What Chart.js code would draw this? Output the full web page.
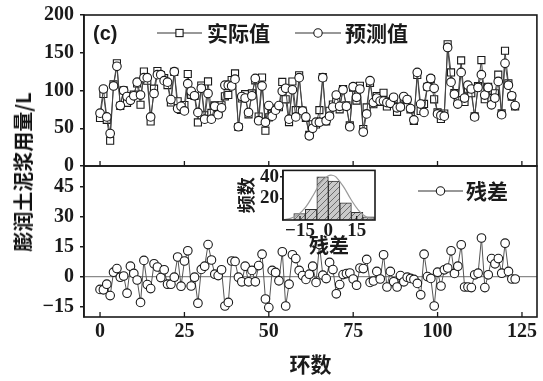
<!DOCTYPE html>
<html><head><meta charset="utf-8">
<script src="https://cdn.jsdelivr.net/npm/chart.js@4/dist/chart.umd.min.js"></script>
<style>
html,body{margin:0;padding:0;background:#fff;}
#wrap{position:relative;width:543px;height:381px;overflow:hidden;background:#fff;}
canvas{position:absolute;}
#ytitle{position:absolute;left:23px;top:172px;transform:translate(-50%,-50%) rotate(-90deg);font-family:"Noto Sans CJK SC";font-weight:bold;font-size:20px;line-height:1;color:#111;white-space:nowrap;}
</style></head><body>
<div id="wrap">
<canvas id="top" width="543" height="187" style="left:0;top:-3px"></canvas>
<canvas id="bot" width="543" height="233" style="left:0;top:148px"></canvas>
<canvas id="ins" width="150" height="100" style="left:230px;top:158px"></canvas>
<div id="ytitle">膨润土泥浆用量/L</div>
</div>
<script>
// ---------- data ----------
const actual = [63.6,95.4,61.2,33.5,108.2,136.0,79.7,100.3,83.7,92.2,
94.6,109.3,81.1,125.1,113.0,59.0,102.4,125.8,120.5,116.4,
107.2,84.2,124.7,85.8,74.2,80.8,121.9,94.3,92.7,57.7,
106.6,67.2,112.0,70.3,80.2,68.5,80.4,92.3,94.1,113.8,
122.6,51.7,89.4,95.2,68.4,96.1,113.4,65.5,117.2,46.8,
64.5,69.1,76.1,77.9,111.4,88.3,58.2,111.9,74.0,120.1,
73.5,63.6,41.2,55.2,55.1,74.0,117.7,59.0,73.1,81.5,
85.4,75.0,102.0,80.5,53.8,103.8,86.7,106.3,49.0,77.6,
110.1,81.8,92.6,84.8,96.9,78.8,85.6,88.4,71.8,78.5,
89.4,87.7,75.1,59.6,120.6,72.9,82.2,105.0,115.1,88.3,
71.2,62.3,69.4,161.3,123.9,96.6,87.2,139.9,84.8,101.8,
96.5,65.9,105.7,140.3,88.5,104.9,90.0,96.4,121.0,69.7,
152.7,109.6,91.8,78.8];
const predicted = [70,102,65,43,106,132,80,100,92,87,
93,111,94,117,117,65,96,121,121,113,
111,88,125,76,79,73,109,99,93,71,
103,62,96,62,79,68,77,107,107,106,
115,52,92,90,71,93,116,60,106,58,
80,66,74,80,99,103,62,101,65,117,
73,65,40,50,58,58,117,60,66,78,
94,79,101,79,52,105,91,102,45,69,
113,84,90,86,86,84,83,91,77,78,
92,88,76,61,124,82,71,105,116,103,
69,67,66,157,111,95,82,124,90,107,
102,65,104,121,94,104,81,90,112,68,
136,107,93,80];
const residual = [-6.4,-6.6,-3.8,-9.5,2.2,4.0,-0.3,0.3,-8.3,5.2,
1.6,-1.7,-12.9,8.1,-4.0,-6.0,6.4,4.8,-0.5,3.4,
-3.8,-3.8,-0.3,9.8,-4.8,7.8,12.9,-4.7,-0.3,-13.3,
3.6,5.2,16.0,8.3,1.2,0.5,3.4,-14.7,-12.9,7.8,
7.6,-0.3,-2.6,5.2,-2.6,3.1,-2.6,5.5,11.2,-11.2,
-15.5,3.1,2.1,-2.1,12.4,-14.7,-3.8,10.9,9.0,3.1,
0.5,-1.4,1.2,5.2,-2.9,16.0,0.7,-1.0,7.1,3.5,
-8.6,-4.0,1.0,1.5,1.8,-1.2,-4.3,4.3,4.0,8.6,
-2.9,-2.2,2.6,-1.2,10.9,-5.2,2.6,-2.6,-5.2,0.5,
-2.6,-0.3,-0.9,-1.4,-3.4,-9.1,11.2,0.0,-0.9,-14.7,
2.2,-4.7,3.4,4.3,12.9,1.6,5.2,15.9,-5.2,-5.2,
-5.5,0.9,1.7,19.3,-5.5,0.9,9.0,6.4,9.0,1.7,
16.7,2.6,-1.2,-1.2];
const rings = actual.map((_, i) => i); // ring number of each point
const xTicks = [0,25,50,75,100,125];
const topTicks = [0,50,100,150,200];
const resTicks = [-15,0,15,30,45];
const binCenters = [-15.25,-9.15,-3.05,3.05,9.15,15.25,21.35];
const binCounts = [6,10,40,36,16,7,3];
const curveX = [-24,-20,-16,-12,-8,-4,0,2,4,8,12,16,20,24];
const curveY = [0.3,1.5,5,12,23,35,41,41.5,40,31,19,9,3,0.8];
const insetXTicks = [-15,0,15];
const insetYTicks = [20,40];

// ---------- helpers ----------
const INK = '#1a1a1a';
const serif = (s)=>({family:'"Liberation Serif","Times New Roman",serif', weight:'bold', size:s});
const cjk = (s)=>({family:'"Noto Sans CJK SC"', weight:'bold', size:s});
const fmt = v => v < 0 ? '\u2212' + Math.abs(v) : String(v);
const setTicks = arr => (s => { s.ticks = arr.map(v => ({value:v})); });

function framePlugin(name, tickVals, tickLen, extra){
  return {
    id:'frame'+name,
    beforeDraw(chart){
      if (extra && extra.white){
        const a = chart.chartArea, c = chart.ctx;
        c.save(); c.fillStyle='#fff'; c.fillRect(a.left,a.top,a.right-a.left,a.bottom-a.top); c.restore();
      }
    },
    beforeDatasetsDraw(chart){
      if (extra && extra.zero){
        const a = chart.chartArea, c = chart.ctx, y = chart.scales.y.getPixelForValue(0);
        c.save(); c.strokeStyle='#8a8a8a'; c.lineWidth=1.2;
        c.beginPath(); c.moveTo(a.left,y); c.lineTo(a.right,y); c.stroke(); c.restore();
      }
    },
    afterDraw(chart){
      const a = chart.chartArea, c = chart.ctx, xs = chart.scales.x;
      c.save();
      c.strokeStyle = INK; c.lineWidth = 1.6;
      c.strokeRect(a.left, a.top, a.right-a.left, a.bottom-a.top);
      c.lineWidth = 1.3;
      c.beginPath();
      tickVals.forEach(v => { const px = xs.getPixelForValue(v); c.moveTo(px, a.bottom); c.lineTo(px, a.bottom - tickLen); });
      c.stroke();
      if (extra && extra.legend) extra.legend(c);
      c.restore();
    }
  };
}
function yAxis(min, max, ticks, width){
  return {
    min, max, afterBuildTicks: setTicks(ticks), afterFit: s => { s.width = width; },
    ticks:{font:serif(20), color:INK, padding:6, callback: fmt},
    grid:{drawOnChartArea:false, drawTicks:true, tickLength:4, color:INK, lineWidth:1.5},
    border:{display:true, color:INK, width:1.6}
  };
}
function markerCircle(c,x,y,r){ c.beginPath(); c.arc(x,y,r,0,Math.PI*2); c.fillStyle='#fff'; c.fill(); c.strokeStyle=INK; c.lineWidth=1.1; c.stroke(); }
function legendItem(c, x1, x2, y, kind, text, tx){
  c.strokeStyle='#333'; c.lineWidth=1.2;
  c.beginPath(); c.moveTo(x1,y); c.lineTo(x2,y); c.stroke();
  const mx = (x1+x2)/2;
  if (kind==='rect'){ c.fillStyle='#fff'; c.fillRect(mx-3.6,y-3.6,7.2,7.2); c.strokeStyle=INK; c.lineWidth=1.1; c.strokeRect(mx-3.6,y-3.6,7.2,7.2); }
  else markerCircle(c,mx,y,4.2);
  c.fillStyle=INK; c.font='bold 21px "Noto Sans CJK SC"'; c.textBaseline='middle'; c.textAlign='left';
  c.fillText(text, tx, y);
}
const common = {responsive:false, animation:false, plugins:{legend:{display:false}, tooltip:{enabled:false}}};

// ---------- top panel (canvas top = -3) ----------
const TT = -3;
new Chart(document.getElementById('top'), {
  type:'line',
  data:{datasets:[
    {label:'实际值', data: rings.map((x,i)=>({x, y:actual[i]})), borderColor:'#444', borderWidth:1, tension:0,
     pointStyle:'rect', pointRadius:5, pointBackgroundColor:'#fff', pointBorderColor:INK, pointBorderWidth:1.1, order:2},
    {label:'预测值', data: rings.map((x,i)=>({x, y:predicted[i]})), borderColor:'#444', borderWidth:1, tension:0,
     pointStyle:'circle', pointRadius:4.3, pointBackgroundColor:'#fff', pointBorderColor:INK, pointBorderWidth:1.1, order:1}
  ]},
  options:{...common,
    layout:{padding:{top:0, right:6, bottom:0, left:0}},
    scales:{
      x:{type:'linear', min:-4.75, max:129.45, display:false},
      y:yAxis(0, 200, topTicks, 84)
    }},
  plugins:[framePlugin('T', xTicks, 5, {legend: c => {
    c.fillStyle=INK; c.font='bold 20px "Liberation Sans",Arial,sans-serif'; c.textBaseline='middle'; c.textAlign='left';
    c.fillText('(c)', 93, 34-TT);
    legendItem(c, 157, 202, 33-TT, 'rect', '实际值', 207);
    legendItem(c, 295, 341, 33-TT, 'circle', '预测值', 345);
  }})]
});

// ---------- bottom panel (canvas top = 148) ----------
const BT = 148;
new Chart(document.getElementById('bot'), {
  type:'line',
  data:{datasets:[
    {label:'残差', data: rings.map((x,i)=>({x, y:residual[i]})), borderColor:'#555', borderWidth:1, tension:0,
     pointStyle:'circle', pointRadius:4.3, pointBackgroundColor:'#fff', pointBorderColor:INK, pointBorderWidth:1.1}
  ]},
  options:{...common,
    layout:{padding:{top:0, right:6, bottom:0, left:0}},
    scales:{
      x:{type:'linear', min:-4.75, max:129.45, afterBuildTicks:setTicks(xTicks), afterFit: s => { s.height = 64; },
         ticks:{font:serif(20), color:INK, padding:3, autoSkip:false, maxRotation:0},
         grid:{display:false, drawTicks:false}, border:{display:false},
         title:{display:true, text:'环数', font:cjk(21), color:INK, padding:{top:0, bottom:4}}},
      y:yAxis(-20.2, 55.3, resTicks, 84)
    }},
  plugins:[framePlugin('B', xTicks, 5, {zero:true, legend: c => {
    legendItem(c, 418, 463, 191-BT, 'circle', '残差', 466);
  }})]
});

// ---------- inset histogram ----------
function hatch(){
  const cv=document.createElement('canvas'); cv.width=6; cv.height=6;
  const g=cv.getContext('2d');
  g.fillStyle='#c9c9c9'; g.fillRect(0,0,6,6);
  g.strokeStyle='#555'; g.lineWidth=0.8;
  g.beginPath(); g.moveTo(0,6); g.lineTo(6,0); g.moveTo(-1,1); g.lineTo(1,-1); g.moveTo(5,7); g.lineTo(7,5); g.stroke();
  return g.createPattern(cv,'repeat');
}
new Chart(document.getElementById('ins'), {
  data:{datasets:[
    {type:'line', data: curveX.map((x,i)=>({x, y:curveY[i]})), borderColor:'#9a9a9a', borderWidth:1.2, pointRadius:0, tension:0.4, order:0},
    {type:'bar', data: binCenters.map((x,i)=>({x, y:binCounts[i]})), backgroundColor:hatch(), borderColor:'#333', borderWidth:1,
     barPercentage:1, categoryPercentage:1, order:1}
  ]},
  options:{...common,
    layout:{padding:{top:0, right:5, bottom:0, left:0}},
    scales:{
      x:{type:'linear', offset:false, min:-24, max:24.7, afterBuildTicks:setTicks(insetXTicks), afterFit: s => { s.height = 38; },
         ticks:{font:serif(19), color:INK, padding:0, autoSkip:false, maxRotation:0, callback:fmt},
         grid:{display:false, drawTicks:false}, border:{display:false},
         title:{display:true, text:'残差', font:cjk(20), color:INK, padding:{top:0, bottom:1}}},
      y:{min:0, max:46, afterBuildTicks:setTicks(insetYTicks), afterFit: s => { s.width = 53; },
         ticks:{font:serif(19), color:INK, padding:1},
         grid:{drawOnChartArea:false, drawTicks:true, tickLength:3, color:INK, lineWidth:1.4},
         border:{display:true, color:INK, width:1.5},
         title:{display:true, text:'频数', font:cjk(18), color:INK, padding:{top:5, bottom:0}}}
    }},
  plugins:[framePlugin('I', insetXTicks, 4, {white:true})]
});
</script>
</body></html>
